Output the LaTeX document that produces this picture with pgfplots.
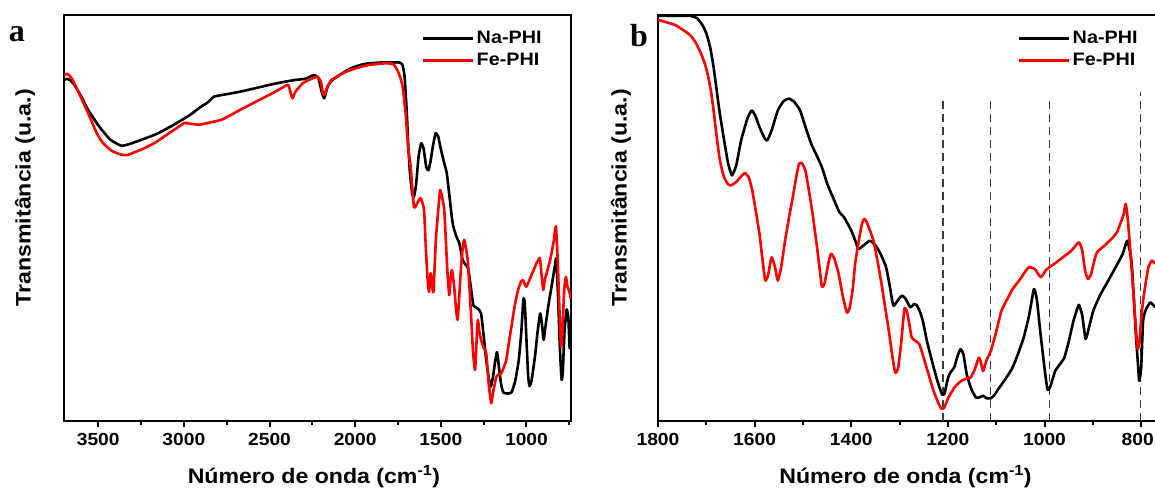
\documentclass[border=0pt]{standalone}
\usepackage{pgfplots}
\pgfplotsset{compat=1.18}
\usepackage{fontspec}
\setmainfont{Liberation Sans}[FakeStretch=1.1]
\newfontfamily\serifb{Liberation Serif}
\definecolor{myred}{RGB}{255,0,0}
\definecolor{dashgray}{RGB}{60,60,60}

\pgfplotstableread{
wn y
3700 84.0
3680 84.3
3646 83.2
3600 80
3559 76.6
3494 72.5
3430 69.3
3365 67.8
3320 68.2
3278 68.8
3170 70.5
3100 72
3041 73.4
2960 75.5
2911 77.1
2860 78.5
2824 79.9
2750 80.5
2673 81.1
2600 81.8
2500 82.8
2420 83.5
2349 84.0
2290 84.3
2241 85.2
2215 84.5
2195 81
2180 79.5
2160 82.5
2133 84
2080 85.5
2025 86.9
1960 87.8
1917 88.1
1850 88.3
1780 88.3
1744 88.3
1725 87.8
1712 85
1700 77
1690 68
1680 61
1667 56
1657 55.2
1645 58
1630 65
1615 68.4
1600 67
1585 62.5
1572 61.8
1560 64
1545 68
1530 70.9
1515 70
1500 67
1480 63.5
1465 61
1450 55.5
1431 48.7
1410 45.5
1392 43.8
1373 39.7
1355 38.5
1340 37.5
1325 33
1310 28.5
1295 28
1280 27.5
1265 26.5
1250 21
1235 15
1220 10.5
1208 8.5
1195 11
1185 14
1172 17
1160 13
1148 9
1135 7
1120 6.8
1100 6.8
1085 7.2
1065 10
1045 15
1030 22
1018 30
1010 29
1000 20
990 11
982 8.6
970 10
950 16
935 22
920 26.5
910 24
900 20
890 23
870 29
850 34
835 38
826 40
815 30
805 18
795 10.2
788 12
778 22
765 27.5
755 25
748 18
740 19
}\NaA

\pgfplotstableread{
wn y
3700 85.2
3680 85.5
3655 84.4
3610 80.5
3559 75.8
3510 71
3473 68.5
3420 66.5
3365 65.6
3330 65.5
3300 66
3240 67
3170 68.5
3100 70.5
3040 72.2
2997 73.4
2960 73.2
2911 73.0
2850 73.5
2781 74.2
2720 75.5
2673 76.6
2600 78.2
2521 79.9
2450 81.5
2392 82.8
2375 80.5
2365 79.5
2355 80.5
2349 81.1
2306 83.2
2260 84.2
2220 84.8
2200 83.5
2190 81
2180 80.3
2165 82
2140 84
2122 84.4
2080 85.5
2025 86.5
1960 87.3
1917 87.7
1860 88.0
1809 88.1
1775 87.8
1755 86.5
1740 85
1723 82.4
1706 76
1690 67
1676 62.6
1657 52.8
1640 53.5
1618 54.9
1598 52
1588 43
1578 35.5
1569 31.8
1559 36.4
1550 33
1543 31.8
1535 39
1529 44.6
1515 52
1504 56.9
1492 55
1480 52
1470 44
1461 36.4
1451 31
1443 35
1435 37.2
1422 33.1
1412 28
1402 24.9
1392 31
1382 38
1370 43.5
1363 44.6
1355 43
1343 39.7
1333 33
1323 25.7
1312 17
1300 12.6
1292 19
1284 24.9
1275 22
1265 20
1250 18
1235 16.7
1220 9
1206 4.4
1195 7
1176 10.9
1160 11.5
1147 11.7
1130 13.5
1118 15
1100 20
1088 23.2
1070 28
1049 32.3
1030 34.5
1020 34.7
1008 33.5
1000 33.1
980 35
960 37
940 39
922 40.1
912 36
902 32.3
892 35
882 36.4
860 40
840 44.5
828 48
818 40
808 28
798 18.3
790 22
780 32
770 35.5
760 33
750 32
740 30
}\FeA

\pgfplotstableread{
wn y
1800 99.8
1760 99.8
1734 99.8
1719 99.2
1708 97.5
1700 95.5
1692 92
1685 87.2
1673 76.5
1662 68.3
1655 63.5
1647 60.5
1638 63
1628 69.1
1615 74.5
1606 76.5
1598 75
1590 72.4
1580 69.8
1574 69.1
1565 71.5
1552 76.5
1540 78.8
1529 79.4
1518 78.6
1506 76.5
1495 72.5
1483 68.3
1472 65.5
1461 62.6
1450 58.5
1438 55.1
1425 51.5
1415 50.2
1400 46.9
1392 44.5
1385 42.4
1375 43.2
1362 44.4
1354 43.8
1347 42.8
1338 40.8
1328 37.9
1320 33
1313 28.4
1305 29.5
1295 30.9
1287 30
1278 28
1270 28.8
1265 28.6
1258 27
1252 24.7
1243 19.5
1233 14.8
1222 10
1212 6.5
1207 6.8
1200 10.5
1195 11.9
1187 13.2
1180 16
1174 17.7
1168 16.5
1161 11.5
1152 8
1142 5.8
1135 5.8
1127 6.2
1120 5.6
1111 5.6
1103 6.5
1096 7.8
1080 10.5
1066 13.2
1055 16.5
1043 20.6
1032 26
1022 32.5
1016 30
1009 22.2
1000 13
994 7.8
988 8.5
978 12.3
968 14
959 15.6
950 19.5
940 24.7
929 28.6
922 26
915 20.2
907 23.5
899 27.2
885 31
868 34.6
850 38.5
838 41.2
829 44.4
822 41
819 37.9
815 30
811 21.4
806 13
804 9.9
800 13
796 24.7
790 27.5
781 29.2
771 28
}\NaB

\pgfplotstableread{
wn y
1800 98.8
1764 97.5
1734 95.1
1722 93.2
1711 90.5
1703 88
1696 84.8
1690 81
1685 76.5
1679 70.5
1673 65
1667 61.5
1662 59.7
1655 58.3
1650 58
1642 58.5
1635 59.3
1625 60.6
1620 61.1
1612 60
1605 56.8
1598 52
1590 46.1
1584 40
1578 34.6
1572 36
1565 40.3
1558 38
1552 34.6
1545 38
1537 44.4
1529 50
1521 55.1
1514 60
1508 63.4
1502 63.5
1495 61.7
1488 57
1480 51
1470 42
1461 33.3
1455 34
1448 38.5
1442 41.2
1435 40
1426 36.2
1418 31
1409 26.7
1403 28
1397 32.5
1392 38.7
1385 44
1378 48.5
1373 49.8
1368 49
1360 46.5
1354 44.4
1345 39
1337 33.5
1332 29.6
1322 22
1315 16
1309 11.9
1303 13
1297 19
1290 27.6
1285 27
1280 24
1275 20.6
1268 19.8
1259 18.9
1250 15.5
1240 11.5
1230 7.5
1220 4.5
1214 3.1
1208 3.2
1200 5.5
1195 6.6
1185 8.5
1172 9.9
1160 10.5
1153 10.7
1145 12.5
1136 15.6
1132 14.5
1127 12.3
1120 15
1111 17.3
1100 22
1089 27.2
1075 30.5
1066 32.5
1050 35
1040 36.8
1032 37.9
1020 37.4
1012 36
1007 35.4
998 37
990 37.9
975 39.1
960 40.5
944 42
929 44
922 42
916 37
910 35
904 36
897 39.5
891 41.6
875 43.3
861 44.9
850 46.5
842 49
836 51
832 53.5
828 50
823 42.8
815 29.6
808 18.1
804 19
800 25
796 29.6
790 34.5
785 37.9
778 39.5
771 38.7
}\FeB

\begin{document}
\begin{tikzpicture}
\useasboundingbox (0pt,0pt) rectangle (1155pt,488pt);
\pgfplotsset{
  panel/.style={
    scale only axis, anchor=south west, height=406pt,
    x dir=reverse, ymin=0, ymax=100, ytick=\empty,
    axis line style={line width=2.4pt},
    tick align=outside, xtick pos=bottom,
    major tick length=6pt, minor tick length=3.5pt,
    every tick/.style={black, line width=2pt},
    xticklabel style={font=\fontsize{17.5}{17.5}\selectfont\bfseries, yshift=-3pt},
    /pgf/number format/assume math mode=true,
    /pgf/number format/set thousands separator={},
    xlabel={Número de onda (cm\textsuperscript{-1})},
    ylabel={Transmitância (u.a.)},
    xlabel style={font=\fontsize{21}{21}\selectfont\bfseries, at={(axis description cs:0.493,-0.137)}, anchor=center},
    ylabel style={font=\fontsize{21}{21}\selectfont\bfseries, rotate=0, anchor=center},
    legend cell align=left,
    legend image code/.code={\draw[#1, line width=2.6pt] (0pt,0pt) -- (50pt,0pt);},
    legend style={draw=none, fill=none, inner sep=0pt, row sep=4pt,
      font=\fontsize{18}{18}\selectfont\bfseries, anchor=north west},
    clip=true,
  },
  na/.style={black, line width=2.6pt, line join=round, smooth, tension=0.3},
  fe/.style={myred, line width=2.6pt, line join=round, smooth, tension=0.3},
  dl/.style={dashgray, line width=1.4pt, dash pattern=on 8pt off 5pt, forget plot},
}
\begin{axis}[panel, at={(64pt,67pt)}, width=507pt,
  xmin=740, xmax=3700,
  xtick={1000,1500,2000,2500,3000,3500},
  minor xtick={750,1250,1750,2250,2750,3250},
  ylabel style={at={(axis description cs:-0.077,0.55)}},
  legend style={at={(axis description cs:0.706,0.965)}}]
\addplot[na] table[x=wn,y=y] {\NaA};
\addlegendentry{Na-PHI}
\addplot[fe] table[x=wn,y=y] {\FeA};
\addlegendentry{Fe-PHI}
\end{axis}
\begin{axis}[panel, at={(658pt,67pt)}, width=502pt,
  xmin=761, xmax=1800,
  xtick={800,1000,1200,1400,1600,1800},
  xticklabels={{\hspace*{-7pt}800},1000,1200,1400,1600,1800},
  minor xtick={900,1100,1300,1500,1700},
  ylabel style={at={(axis description cs:-0.0737,0.55)}},
  legend style={at={(axis description cs:0.717,0.965)}}]
\addplot[dl] coordinates {(1210,0) (1210,80)};
\addplot[dl] coordinates {(1112,0) (1112,80)};
\addplot[dl] coordinates {(990,0) (990,80)};
\addplot[dl] coordinates {(801,0) (801,81)};
\addplot[na] table[x=wn,y=y] {\NaB};
\addlegendentry{Na-PHI}
\addplot[fe] table[x=wn,y=y] {\FeB};
\addlegendentry{Fe-PHI}
\end{axis}
\node at (17pt,454pt) {\serifb\bfseries\fontsize{32}{32}\selectfont a};
\node at (639pt,452pt) {\serifb\bfseries\fontsize{32}{32}\selectfont b};
\end{tikzpicture}
\end{document}
